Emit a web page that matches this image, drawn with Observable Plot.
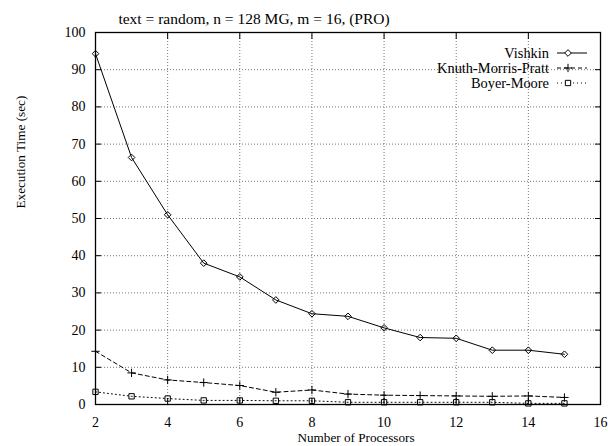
<!DOCTYPE html>
<html><head><meta charset="utf-8">
<script src="https://cdn.jsdelivr.net/npm/d3@7"></script>
<script src="https://cdn.jsdelivr.net/npm/@observablehq/plot@0.6"></script>
<style>
body{margin:0;background:#fff}
</style>
</head><body><div id="chart"></div>
<script>
const processors = [2,3,4,5,6,7,8,9,10,11,12,13,14,15];
const vishkin = [94.3,66.4,51.0,38.0,34.3,28.1,24.4,23.7,20.6,18.0,17.8,14.6,14.6,13.5];
const kmp = [14.3,8.5,6.6,5.9,5.1,3.3,3.9,2.8,2.5,2.4,2.3,2.2,2.3,1.9];
const boyerMoore = [3.4,2.2,1.6,1.1,1.1,1.0,1.0,0.6,0.6,0.6,0.6,0.6,0.3,0.3];
const seriesNames = ["Vishkin","Knuth-Morris-Pratt","Boyer-Moore"];
const xTicks = [2,4,6,8,10,12,14,16];
const yTicks = [0,10,20,30,40,50,60,70,80,90,100];
const titleText = "text = random, n = 128 MG, m = 16, (PRO)";
const xLabel = "Number of Processors";
const yLabel = "Execution Time (sec)";

const FONT = "Liberation Serif, Times New Roman, serif";
const seriesValues = [vishkin, kmp, boyerMoore];
const styles = [
  {dash: null, symbol: "diamond2", r: 3.0},
  {dash: "4,3", symbol: "plus", r: 2.8},
  {dash: "1,3", symbol: "square2", r: 3.4}
];
const data = seriesNames.flatMap((name, i) =>
  processors.map((p, j) => ({x: p, y: seriesValues[i][j], series: name})));

const seriesMarks = seriesNames.flatMap((name, i) => {
  const d = data.filter(r => r.series === name);
  const s = styles[i];
  return [
    Plot.line(d, {x: "x", y: "y", stroke: "black", strokeWidth: 1, strokeDasharray: s.dash}),
    Plot.dot(d, {x: "x", y: "y", stroke: "black", fill: "none", symbol: s.symbol, r: s.r, strokeWidth: 1})
  ];
});

const chart = Plot.plot({
  width: 608, height: 446,
  marginLeft: 95, marginRight: 8, marginTop: 32, marginBottom: 42,
  style: `font-family: ${FONT}; font-size: 14px; background: #fff;`,
  x: {domain: [2,16]},
  y: {domain: [0,100]},
  marks: [
    Plot.gridY(yTicks, {stroke: "#777", strokeOpacity: 1, strokeDasharray: "1,2"}),
    Plot.gridX(xTicks, {stroke: "#777", strokeOpacity: 1, strokeDasharray: "1,2"}),
    Plot.axisX(xTicks, {anchor: "bottom", tickSize: 0, tickPadding: 13, label: null, fontSize: 14, fontFamily: FONT, fill: "black"}),
    Plot.axisY(yTicks, {anchor: "left", tickSize: 0, tickPadding: 10, label: null, fontSize: 14, fontFamily: FONT, fill: "black"}),
    Plot.axisX(xTicks, {anchor: "bottom", tickSize: -6, fill: "none", label: null, stroke: "black"}),
    Plot.axisX(xTicks, {anchor: "top", tickSize: -6, fill: "none", label: null, stroke: "black"}),
    Plot.axisY(yTicks, {anchor: "left", tickSize: -6, fill: "none", label: null, stroke: "black"}),
    Plot.axisY(yTicks, {anchor: "right", tickSize: -6, fill: "none", label: null, stroke: "black"}),
    ...seriesMarks,
    Plot.frame({stroke: "black", strokeWidth: 1.3}),
    Plot.text([titleText], {frameAnchor: "top", dx: -94, dy: -13, fontSize: 15.5, fontFamily: FONT, fill: "black", lineAnchor: "middle"}),
    Plot.text([xLabel], {frameAnchor: "bottom", dx: 8, dy: 33, fontSize: 13.2, fontFamily: FONT, fill: "black", lineAnchor: "middle"}),
    Plot.text([yLabel], {frameAnchor: "left", dx: -75, dy: -10, rotate: -90, fontSize: 13.2, fontFamily: FONT, fill: "black", lineAnchor: "middle"})
  ]
});
document.getElementById("chart").appendChild(chart);

// Legend (top-right, inside frame)
const svg = d3.select(chart.tagName.toLowerCase() === "svg" ? chart : chart.querySelector("svg"));
const lg = svg.append("g").attr("font-family", FONT);
seriesNames.forEach((name, i) => {
  const yy = 53 + i * 15;
  lg.append("text").attr("x", 549).attr("y", yy).attr("dy", "0.35em")
    .attr("text-anchor", "end").attr("font-size", 14.4).attr("fill", "black").text(name);
  lg.append("line").attr("x1", 557).attr("x2", 587).attr("y1", yy).attr("y2", yy)
    .attr("stroke", "black").attr("stroke-dasharray", styles[i].dash);
  const sym = {diamond2: d3.symbolDiamond2, plus: d3.symbolPlus, square2: d3.symbolSquare2}[styles[i].symbol];
  lg.append("path").attr("transform", `translate(568,${yy})`)
    .attr("d", d3.symbol(sym, Math.PI * styles[i].r * styles[i].r)())
    .attr("fill", styles[i].symbol === "plus" ? "none" : "white").attr("stroke", "black");
});
</script>
</body></html>
